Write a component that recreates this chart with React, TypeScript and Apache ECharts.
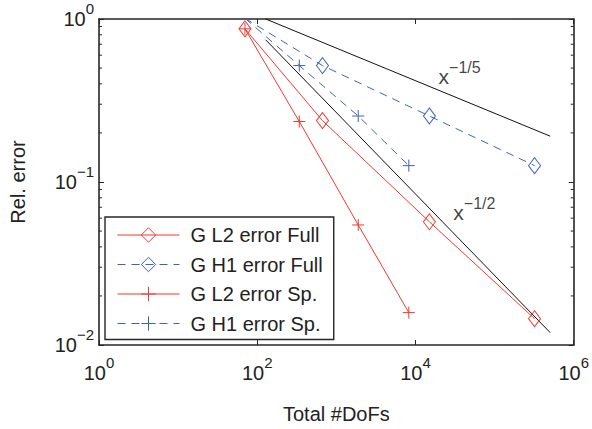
import React, { useEffect, useRef } from "react";
import * as echarts from "echarts";

// ---- data ----
const fullDofs = [70, 668, 15000, 320000];
const l2Full = [0.87, 0.238, 0.057, 0.0145];
const h1Full = [1.01, 0.518, 0.254, 0.126];
const spDofs = [70, 340, 1890, 8240];
const l2Sp = [0.87, 0.235, 0.0545, 0.0158];
const h1Sp = [1.01, 0.518, 0.254, 0.126];

const refDofs = [128, 505000];
const ref15 = [1.0, 0.191];
const ref12 = [0.745, 0.0119];

const annDofs = [19600, 30100];
const annErr = [0.443, 0.0652];
const annExp = ["\u22121/5", "\u22121/2"];

const yMinorTicks = [0.02, 0.03, 0.04, 0.05, 0.06, 0.07, 0.08, 0.09, 0.2, 0.3, 0.4, 0.5, 0.6, 0.7, 0.8, 0.9];

const seriesNames = ["G L2 error Full", "G H1 error Full", "G L2 error Sp.", "G H1 error Sp."];

const X_MIN = 0, X_MAX = 6; // log10 of DoFs
const Y_MIN = -2, Y_MAX = 0; // log10 of error

const RED = "#ec3b30";
const BLUE = "#4060c0";
const AXIS = "#262626";
const FONT = "'Liberation Sans', Arial, Helvetica, sans-serif";
const PLUS = "path://M0,6H12M6,0V12";

const lg = (v: number) => Math.log10(v);
const pts = (xs: number[], ys: number[]) => xs.map((x, i) => [lg(x), lg(ys[i])]);

const expLabel = (v: number) => {
  const n = Math.round(v);
  const s = n < 0 ? "\u2212" + -n : String(n);
  return `{b|10}{s|${s}}`;
};

const tickRich = {
  b: { fontSize: 20, lineHeight: 36, fontFamily: FONT, color: "#222" },
  s: { fontSize: 15, lineHeight: 14, verticalAlign: "top", fontFamily: FONT, color: "#222" },
};

export default function App() {
  const ref = useRef<HTMLDivElement>(null);
  useEffect(() => {
    if (!ref.current) return;
    const chart = echarts.init(ref.current, undefined, { renderer: "svg" });
    const axisLine = { show: true, onZero: false, lineStyle: { color: AXIS, width: 1.6 } };
    const axisTick = { show: true, inside: true, length: 5, lineStyle: { color: AXIS, width: 1 } };
    const lineSeries = (name: string, xs: number[], ys: number[], color: string, dashed: boolean, symbol: string, size: any) => ({
      name,
      type: "line",
      data: pts(xs, ys),
      symbol,
      symbolSize: size,
      showSymbol: true,
      clip: true,
      lineStyle: { color, width: 1, type: dashed ? [8, 6] : "solid" },
      itemStyle: { color: "rgba(0,0,0,0)", borderColor: color, borderWidth: 1 },
      emphasis: { disabled: true },
      z: 3,
    });
    chart.setOption({
      animation: false,
      backgroundColor: "#fff",
      textStyle: { fontFamily: FONT },
      grid: { left: 93, right: 15, top: 19, bottom: 76 },
      xAxis: [
        {
          type: "value",
          min: X_MIN,
          max: X_MAX,
          interval: 2,
          name: "Total #DoFs",
          nameLocation: "middle",
          nameGap: 59,
          nameTextStyle: { fontSize: 20, color: "#222", fontFamily: FONT },
          axisLine,
          axisTick,
          splitLine: { show: false },
          axisLabel: { margin: 10, formatter: expLabel, rich: tickRich },
        },
        {
          type: "value",
          position: "top",
          min: X_MIN,
          max: X_MAX,
          interval: 2,
          axisLine,
          axisTick,
          splitLine: { show: false },
          axisLabel: { show: false },
        },
      ],
      yAxis: [
        {
          type: "value",
          min: Y_MIN,
          max: Y_MAX,
          interval: 1,
          name: "Rel. error",
          nameLocation: "middle",
          nameGap: 71,
          nameTextStyle: { fontSize: 20, color: "#222", fontFamily: FONT },
          axisLine,
          axisTick,
          splitLine: { show: false },
          axisLabel: { margin: 5, formatter: expLabel, rich: tickRich },
        },
        {
          type: "value",
          position: "right",
          min: Y_MIN,
          max: Y_MAX,
          interval: 1,
          axisLine,
          axisTick,
          splitLine: { show: false },
          axisLabel: { show: false },
        },
      ],
      legend: {
        data: seriesNames,
        orient: "vertical",
        left: 105,
        top: 217,
        padding: [8, 11, 6, 12],
        itemGap: 9.5,
        itemWidth: 62,
        itemHeight: 18,
        backgroundColor: "#fff",
        borderColor: AXIS,
        borderWidth: 1.4,
        borderRadius: 0,
        selectedMode: false,
        lineStyle: { width: 1 },
        itemStyle: { borderWidth: 1 },
        textStyle: { fontSize: 20, lineHeight: 20, color: "#222", fontFamily: FONT, padding: [0, 0, 0, 6] },
      },
      series: [
        {
          name: "ref15",
          type: "line",
          data: pts(refDofs, ref15),
          symbol: "none",
          lineStyle: { color: "#111", width: 1 },
          clip: false,
          z: 2,
        },
        {
          name: "ref12",
          type: "line",
          data: pts(refDofs, ref12),
          symbol: "none",
          lineStyle: { color: "#111", width: 1 },
          clip: false,
          z: 2,
        },
        lineSeries(seriesNames[0], fullDofs, l2Full, RED, false, "diamond", [12, 16]),
        lineSeries(seriesNames[1], fullDofs, h1Full, BLUE, true, "diamond", [12, 16]),
        lineSeries(seriesNames[2], spDofs, l2Sp, RED, false, PLUS, 12),
        lineSeries(seriesNames[3], spDofs, h1Sp, BLUE, true, PLUS, 12),
        {
          name: "annotations",
          type: "scatter",
          data: pts(annDofs, annErr),
          symbolSize: 0,
          itemStyle: { color: "rgba(0,0,0,0)" },
          silent: true,
          label: {
            show: true,
            position: "right",
            distance: 0,
            formatter: (p: any) => `{b|x}{s|${annExp[p.dataIndex]}}`,
            rich: {
              b: { fontSize: 21, lineHeight: 34, fontFamily: FONT, color: "#111" },
              s: { fontSize: 16, lineHeight: 16, verticalAlign: "top", fontFamily: FONT, color: "#111" },
            },
          },
          z: 4,
        },
        {
          name: "minorTicks",
          type: "custom",
          silent: true,
          data: yMinorTicks.map((v) => [X_MIN, lg(v)]),
          renderItem: (_params: any, api: any) => {
            const v = api.value(1);
            const l = api.coord([X_MIN, v]);
            const r = api.coord([X_MAX, v]);
            return {
              type: "group",
              children: [
                { type: "line", shape: { x1: l[0], y1: l[1], x2: l[0] + 3, y2: l[1] }, style: { stroke: AXIS, lineWidth: 1 } },
                { type: "line", shape: { x1: r[0], y1: r[1], x2: r[0] - 3, y2: r[1] }, style: { stroke: AXIS, lineWidth: 1 } },
              ],
            };
          },
          z: 5,
        },
      ],
    });
    return () => chart.dispose();
  }, []);
  return (
    <div
      ref={ref}
      style={{ position: "fixed", left: 0, top: 0, width: 592, height: 429, background: "#fff" }}
    />
  );
}
